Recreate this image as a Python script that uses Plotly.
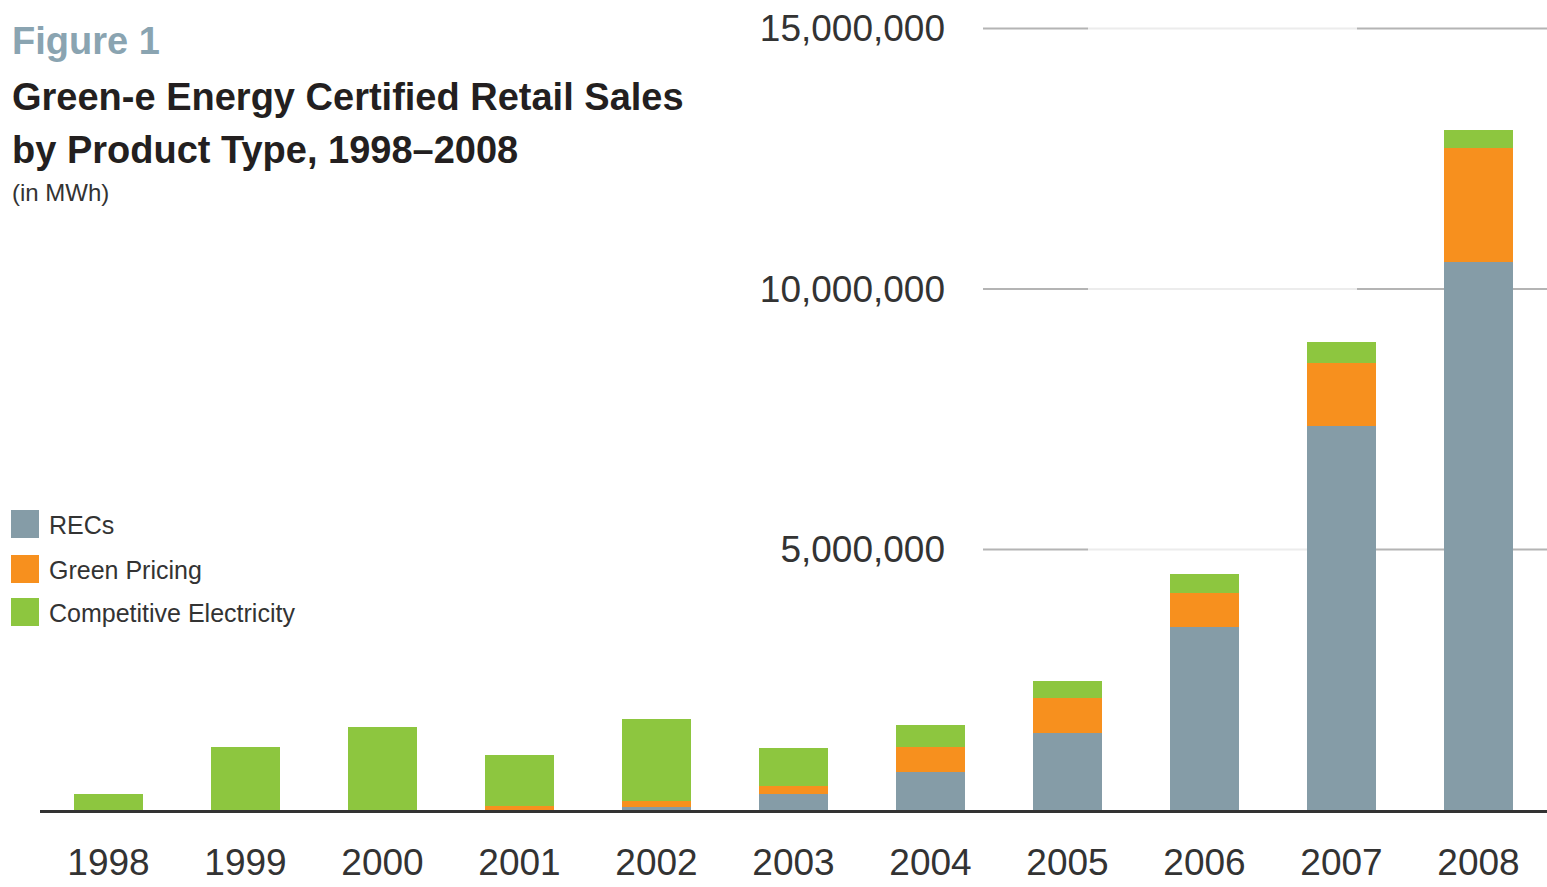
import plotly.graph_objects as go

# ---- data (MWh) ----
years = ["1998", "1999", "2000", "2001", "2002", "2003", "2004", "2005", "2006", "2007", "2008"]
recs = [0, 0, 0, 0, 50_000, 310_000, 730_000, 1_480_000, 3_510_000, 7_370_000, 10_510_000]
green_pricing = [0, 0, 0, 70_000, 130_000, 150_000, 480_000, 670_000, 650_000, 1_210_000, 2_190_000]
competitive = [310_000, 1_210_000, 1_590_000, 980_000, 1_570_000, 730_000, 420_000, 330_000, 360_000, 400_000, 350_000]

y_tick_values = [5_000_000, 10_000_000, 15_000_000]
y_tick_labels = ["5,000,000", "10,000,000", "15,000,000"]

series_names = ["RECs", "Green Pricing", "Competitive Electricity"]
series_colors = ["#859ca7", "#f7901e", "#8dc63f"]

W, H = 1547, 887
FONT = "Liberation Sans, Arial, sans-serif"


def px(x):
    return x / W


def py(y):
    return 1 - y / H


fig = go.Figure()
for name, vals, col in zip(series_names, [recs, green_pricing, competitive], series_colors):
    fig.add_trace(go.Bar(x=years, y=vals, name=name, marker=dict(color=col, line=dict(width=0)),
                         showlegend=False))

shapes = []
# gridlines (behind bars)
for v in y_tick_values:
    for (a, b, c) in [(983, 1088, "#b4b4b4"), (1088, 1357, "#ececec"), (1357, W, "#b4b4b4")]:
        shapes.append(dict(type="line", xref="paper", yref="y", x0=px(a), x1=px(b), y0=v, y1=v,
                           line=dict(color=c, width=2), layer="below"))

annotations = []
# custom legend
legend_rows = [524, 569, 612]
for name, col, yc in zip(series_names, series_colors, legend_rows):
    shapes.append(dict(type="rect", xref="paper", yref="paper", x0=px(11), x1=px(39),
                       y0=py(yc + 14), y1=py(yc - 14), fillcolor=col, line=dict(width=0)))
    annotations.append(dict(text=name, xref="paper", yref="paper", x=px(47), y=py(yc + 1),
                            xanchor="left", yanchor="middle", showarrow=False,
                            font=dict(family=FONT, size=25, color="#333333")))

# titles
annotations.append(dict(text="<b>Figure 1</b>", xref="paper", yref="paper", x=px(10), y=py(41),
                        xanchor="left", yanchor="middle", showarrow=False,
                        font=dict(family=FONT, size=38, color="#8aa4b1")))
annotations.append(dict(text="<b>Green-e Energy Certified Retail Sales</b>", xref="paper", yref="paper",
                        x=px(10), y=py(97), xanchor="left", yanchor="middle", showarrow=False,
                        font=dict(family=FONT, size=38, color="#231f20")))
annotations.append(dict(text="<b>by Product Type, 1998–2008</b>", xref="paper", yref="paper",
                        x=px(10), y=py(150), xanchor="left", yanchor="middle", showarrow=False,
                        font=dict(family=FONT, size=38, color="#231f20")))
annotations.append(dict(text="(in MWh)", xref="paper", yref="paper", x=px(10), y=py(193),
                        xanchor="left", yanchor="middle", showarrow=False,
                        font=dict(family=FONT, size=24, color="#333333")))

fig.update_layout(
    width=W, height=H,
    margin=dict(l=0, r=0, t=0, b=0, autoexpand=False),
    paper_bgcolor="white", plot_bgcolor="white",
    barmode="stack", bargap=0.49,
    shapes=shapes, annotations=annotations,
    xaxis=dict(domain=[px(40), 1], type="category", showgrid=False, showline=True, automargin=False,
               linecolor="#333333", linewidth=3, ticks="", ticklabelstandoff=18,
               tickfont=dict(family=FONT, size=37, color="#333333"), zeroline=False),
    yaxis=dict(domain=[py(810), py(18)], range=[0, 15_200_000], anchor="free", position=px(945),
               automargin=False,
               showgrid=False, zeroline=False, showline=False, ticks="",
               tickvals=y_tick_values, ticktext=y_tick_labels,
               tickfont=dict(family=FONT, size=37, color="#333333")),
)

fig.write_html("out.html")
